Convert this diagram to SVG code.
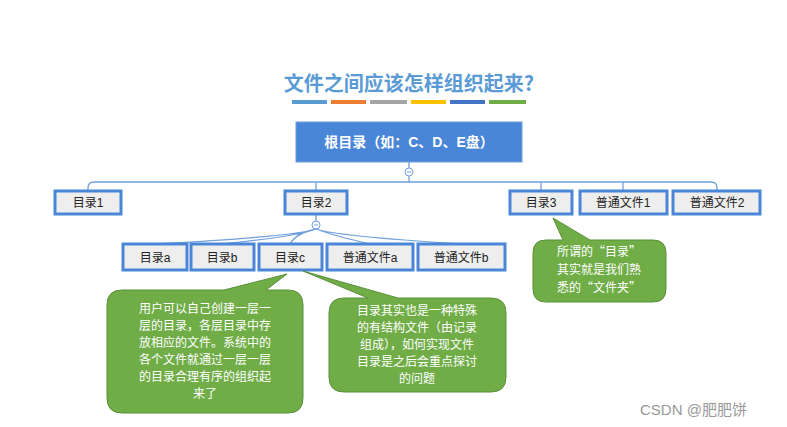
<svg xmlns="http://www.w3.org/2000/svg" width="787" height="427" viewBox="0 0 787 427">
<style>
.bx{fill:#eeeeee;stroke:#4a86d8;stroke-width:3}
.bt{font-family:"Liberation Sans","Noto Sans CJK SC",sans-serif;font-size:12px;fill:#222;text-anchor:middle}
.ln{fill:none;stroke:#6fa0dc;stroke-width:1.3}
.co{fill:#70ad47;stroke:#5a8f3a;stroke-width:1}
.ct{font-family:"Noto Sans CJK SC",sans-serif;font-size:12px;fill:#fff;text-anchor:middle}
</style>
<rect width="787" height="427" fill="#fff"/>
<text x="409" y="91" text-anchor="middle" font-family="Noto Sans CJK SC,sans-serif" font-size="20" font-weight="bold" fill="#5b9bd5">文件之间应该怎样组织起来?</text>
<g>
<rect x="292" y="100" width="35" height="4" fill="#5b9bd5"/>
<rect x="331" y="100" width="35" height="4" fill="#ed7d31"/>
<rect x="370" y="100" width="37" height="4" fill="#a5a5a5"/>
<rect x="411" y="100" width="35" height="4" fill="#ffc000"/>
<rect x="450" y="100" width="35" height="4" fill="#4472c4"/>
<rect x="489" y="100" width="37" height="4" fill="#70ad47"/>
</g>
<g id="connectors">
<path class="ln" d="M409 162V168M409 176V182M88 191V188Q88 182 94 182H711Q717 182 717 188V191M316 182V191M541 182V191M623 182V191"/>
<path class="ln" d="M316 214V221"/>
<path class="ln" d="M316 229Q300 236 155 244M316 229Q300 236 222 244M316 229Q296 233 290 244M316 229Q335 236 370 244M316 229Q335 236 461 244"/>
<circle cx="409" cy="172" r="4" fill="#fff" stroke="#6fa0dc"/>
<path d="M407 172h4" stroke="#6fa0dc"/>
<circle cx="316" cy="225" r="4" fill="#fff" stroke="#6fa0dc"/>
<path d="M314 225h4" stroke="#6fa0dc"/>
</g>
<g id="root"><rect x="296" y="122" width="226" height="40" fill="#4a86d8" stroke="#6fa0dc"/><text x="409" y="147" text-anchor="middle" font-family="Liberation Sans,Noto Sans CJK SC,sans-serif" font-size="14" font-weight="bold" fill="#fff">根目录（如：C、D、E盘）</text></g>
<g id="d1"><rect class="bx" x="55" y="191" width="66" height="23"/><text class="bt" x="88" y="207">目录1</text></g>
<g id="d2"><rect class="bx" x="285" y="191" width="62" height="23"/><text class="bt" x="316" y="207">目录2</text></g>
<g id="d3"><rect class="bx" x="510" y="191" width="62" height="23"/><text class="bt" x="541" y="207">目录3</text></g>
<g id="f1"><rect class="bx" x="580" y="191" width="87" height="23"/><text class="bt" x="623" y="207">普通文件1</text></g>
<g id="f2"><rect class="bx" x="673" y="191" width="87" height="23"/><text class="bt" x="717" y="207">普通文件2</text></g>
<g id="da"><rect class="bx" x="123" y="244" width="64" height="26"/><text class="bt" x="155" y="262">目录a</text></g>
<g id="db"><rect class="bx" x="191" y="244" width="63" height="26"/><text class="bt" x="222" y="262">目录b</text></g>
<g id="dc"><rect class="bx" x="259" y="244" width="63" height="26"/><text class="bt" x="290" y="262">目录c</text></g>
<g id="fa"><rect class="bx" x="327" y="244" width="86" height="26"/><text class="bt" x="370" y="262">普通文件a</text></g>
<g id="fb"><rect class="bx" x="418" y="244" width="87" height="26"/><text class="bt" x="461" y="262">普通文件b</text></g>
<g id="c1">
<path class="co" d="M122 290H224L287 274L266 290H288Q303 290 303 305V398Q303 413 288 413H122Q107 413 107 398V305Q107 290 122 290Z"/>
<text class="ct" x="205" y="313">用户可以自己创建一层一</text>
<text class="ct" x="205" y="330">层的目录，各层目录中存</text>
<text class="ct" x="205" y="347">放相应的文件。系统中的</text>
<text class="ct" x="205" y="364">各个文件就通过一层一层</text>
<text class="ct" x="205" y="381">的目录合理有序的组织起</text>
<text class="ct" x="205" y="398">来了</text>
</g>
<g id="c2">
<path class="co" d="M344 298H368L303 271L398 298H491Q506 298 506 313V377Q506 392 491 392H344Q329 392 329 377V313Q329 298 344 298Z"/>
<text class="ct" x="417" y="315">目录其实也是一种特殊</text>
<text class="ct" x="417" y="332">的有结构文件（由记录</text>
<text class="ct" x="417" y="349">组成），如何实现文件</text>
<text class="ct" x="417" y="366">目录是之后会重点探讨</text>
<text class="ct" x="417" y="383">的问题</text>
</g>
<g id="c3">
<path class="co" d="M546 240H563L553 218L590 240H653Q666 240 666 253V289Q666 302 653 302H546Q533 302 533 289V253Q533 240 546 240Z"/>
<text class="ct" x="599" y="256">所谓的“目录”</text>
<text class="ct" x="599" y="274">其实就是我们熟</text>
<text class="ct" x="599" y="292">悉的“文件夹”</text>
</g>
<text x="640" y="415" font-family="Liberation Sans,Noto Sans CJK SC,sans-serif" font-size="15" fill="#999">CSDN @肥肥饼</text>
</svg>
